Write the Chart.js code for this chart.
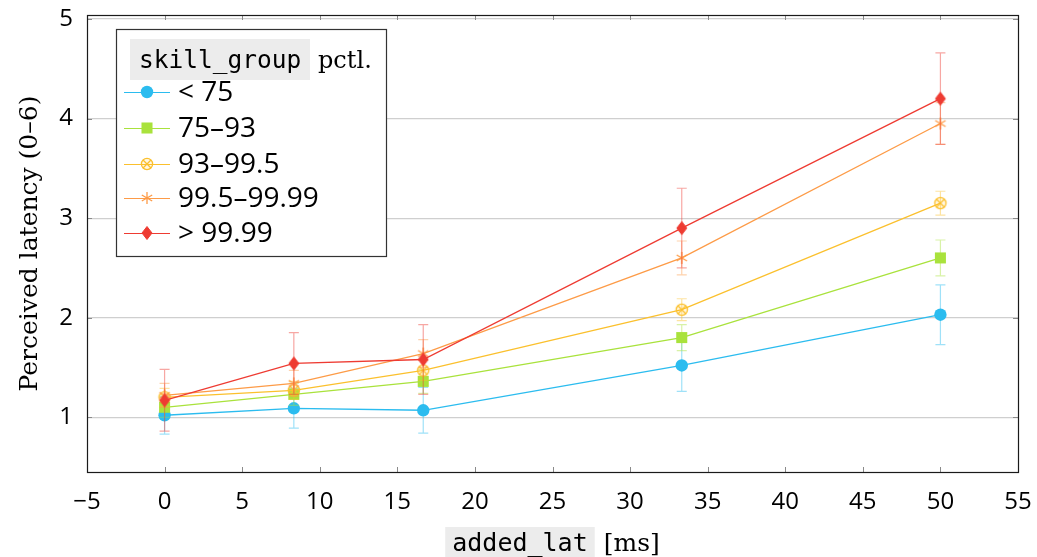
<!DOCTYPE html>
<html><head><meta charset="utf-8">
<script src="https://cdn.jsdelivr.net/npm/chart.js@4.4.1/dist/chart.umd.min.js"></script>
<style>html,body{margin:0;padding:0;background:#fff;overflow:hidden}canvas{display:block}</style>
</head><body>
<canvas id="c" width="1037" height="557"></canvas>
<script>
// ---- data ----
const xValues = [0, 8.33, 16.67, 33.33, 50];
const seriesLabels = ['< 75', '75–93', '93–99.5', '99.5–99.99', '> 99.99'];
const lt75 = [1.02, 1.09, 1.07, 1.52, 2.03];
const lt75Err = [0.19, 0.20, 0.23, 0.26, 0.30];
const p75to93 = [1.10, 1.23, 1.36, 1.80, 2.60];
const p75to93Err = [0.10, 0.11, 0.12, 0.13, 0.18];
const p93to995 = [1.20, 1.27, 1.47, 2.08, 3.15];
const p93to995Err = [0.09, 0.09, 0.10, 0.11, 0.12];
const p995to9999 = [1.22, 1.34, 1.64, 2.60, 3.95];
const p995to9999Err = [0.12, 0.13, 0.14, 0.17, 0.21];
const gt9999 = [1.17, 1.54, 1.58, 2.90, 4.20];
const gt9999Err = [0.31, 0.31, 0.35, 0.40, 0.46];
const yTickValues = [1, 2, 3, 4, 5];
const xTitleCode = 'added_lat';
const xTitleUnit = '[ms]';
const yTitle = 'Perceived latency (0–6)';
const legendTitleCode = 'skill_group';
const legendTitleText = 'pctl.';

// ---- styles ----
const colors = ['#2bbcef', '#a9e23c', '#fbc02d', '#fd9b47', '#ee3b32'];
const SANS = '"Open Sans", "Noto Sans", sans-serif';
const SERIF = '"DejaVu Serif", serif';
const MONO = '"DejaVu Sans Mono", monospace';

function rgba(hex, a) {
  const n = parseInt(hex.slice(1), 16);
  return `rgba(${n >> 16},${(n >> 8) & 255},${n & 255},${a})`;
}
function mk(size, fn) {
  const c = document.createElement('canvas');
  c.width = c.height = size;
  fn(c.getContext('2d'), size / 2);
  return c;
}
const otimes = mk(16, (g, c) => {
  const r = 5.6, col = colors[2];
  g.beginPath(); g.arc(c, c, r, 0, Math.PI * 2);
  g.fillStyle = rgba(col, 0.12); g.fill();
  g.strokeStyle = col; g.lineWidth = 1.3; g.stroke();
  const d = r * Math.SQRT1_2;
  g.beginPath();
  g.moveTo(c - d, c - d); g.lineTo(c + d, c + d);
  g.moveTo(c + d, c - d); g.lineTo(c - d, c + d);
  g.stroke();
});
const asterisk = mk(16, (g, c) => {
  const r = 6, col = colors[3];
  g.strokeStyle = col; g.lineWidth = 1.3;
  g.beginPath();
  for (const a of [90, 30, 150]) {
    const t = a * Math.PI / 180;
    g.moveTo(c - r * Math.cos(t), c - r * Math.sin(t));
    g.lineTo(c + r * Math.cos(t), c + r * Math.sin(t));
  }
  g.stroke();
});
const diamond = mk(18, (g, c) => {
  const w = 5, h = 6.5, col = colors[4];
  g.beginPath();
  g.moveTo(c, c - h); g.lineTo(c + w, c); g.lineTo(c, c + h); g.lineTo(c - w, c);
  g.closePath();
  g.fillStyle = col; g.fill();
  g.strokeStyle = col; g.lineWidth = 1; g.stroke();
});
const pointStyles = ['circle', 'rect', otimes, asterisk, diamond];
const pointRadii = [6.2, 7.8, 6, 6, 6];

const values = [lt75, p75to93, p93to995, p995to9999, gt9999];
const errors = [lt75Err, p75to93Err, p93to995Err, p995to9999Err, gt9999Err];

const datasets = values.map((vals, i) => ({
  label: seriesLabels[i],
  data: xValues.map((x, j) => ({ x, y: vals[j] })),
  errors: errors[i],
  borderColor: colors[i],
  backgroundColor: colors[i],
  borderWidth: 1.3,
  pointStyle: pointStyles[i],
  pointRadius: pointRadii[i],
  pointBorderWidth: 0,
  pointBackgroundColor: colors[i],
  pointBorderColor: colors[i],
  tension: 0,
  order: values.length - i
}));

function drawMarker(ctx, i, x, y) {
  const ps = pointStyles[i];
  if (ps instanceof HTMLCanvasElement) {
    ctx.drawImage(ps, x - ps.width / 2, y - ps.height / 2);
  } else if (ps === 'circle') {
    ctx.beginPath(); ctx.arc(x, y, pointRadii[i], 0, Math.PI * 2);
    ctx.fillStyle = colors[i]; ctx.fill();
  } else {
    const s = pointRadii[i] * Math.SQRT1_2;
    ctx.fillStyle = colors[i]; ctx.fillRect(x - s, y - s, 2 * s, 2 * s);
  }
}

const errorBars = {
  id: 'errorBars',
  beforeDatasetDraw(chart, args) {
    const ds = chart.data.datasets[args.index];
    const xs = chart.scales.x, ys = chart.scales.y, ctx = chart.ctx;
    ctx.save();
    ctx.strokeStyle = rgba(ds.borderColor, 0.45);
    ctx.lineWidth = 1.2;
    ds.data.forEach((p, j) => {
      const e = ds.errors[j];
      const px = xs.getPixelForValue(p.x);
      const y1 = ys.getPixelForValue(p.y + e), y2 = ys.getPixelForValue(p.y - e);
      ctx.beginPath();
      ctx.moveTo(px, y1); ctx.lineTo(px, y2);
      ctx.moveTo(px - 5, y1); ctx.lineTo(px + 5, y1);
      ctx.moveTo(px - 5, y2); ctx.lineTo(px + 5, y2);
      ctx.stroke();
    });
    ctx.restore();
  }
};

const frame = {
  id: 'frame',
  beforeDatasetsDraw(chart) {
    const { ctx, chartArea: a, scales: { x, y } } = chart;
    ctx.save();
    ctx.strokeStyle = '#8a8a8a'; ctx.lineWidth = 1;
    ctx.beginPath();
    x.ticks.forEach(t => {
      const px = Math.round(x.getPixelForValue(t.value)) + 0.5;
      ctx.moveTo(px, a.bottom); ctx.lineTo(px, a.bottom - 5);
      ctx.moveTo(px, a.top); ctx.lineTo(px, a.top + 5);
    });
    y.ticks.forEach(t => {
      const py = Math.round(y.getPixelForValue(t.value)) + 0.5;
      ctx.moveTo(a.left, py); ctx.lineTo(a.left + 5, py);
      ctx.moveTo(a.right, py); ctx.lineTo(a.right - 5, py);
    });
    ctx.stroke();
    ctx.restore();
  },
  afterDraw(chart) {
    const { ctx, chartArea: a } = chart;
    ctx.save();
    ctx.strokeStyle = '#1a1a1a'; ctx.lineWidth = 1.2;
    ctx.strokeRect(Math.round(a.left) + 0.5, Math.round(a.top) + 0.5,
      Math.round(a.right - a.left), Math.round(a.bottom - a.top));

    // axis titles
    ctx.fillStyle = '#000';
    ctx.textBaseline = 'alphabetic';
    ctx.save();
    ctx.translate(37, (a.top + a.bottom) / 2);
    ctx.rotate(-Math.PI / 2);
    ctx.font = `25px ${SERIF}`;
    ctx.textAlign = 'center';
    ctx.fillText(yTitle, 0, 0);
    ctx.restore();

    ctx.font = `25px ${MONO}`;
    const wCode = ctx.measureText(xTitleCode).width;
    ctx.font = `25px ${SERIF}`;
    const wUnit = ctx.measureText(xTitleUnit).width;
    const gap = 9, pad = 7;
    const total = wCode + 2 * pad + gap + wUnit;
    const cx = (a.left + a.right) / 2;
    const sx = cx - total / 2;
    ctx.fillStyle = '#ececec';
    ctx.fillRect(sx, 527, wCode + 2 * pad, 32);
    ctx.fillStyle = '#000';
    ctx.font = `25px ${MONO}`;
    ctx.fillText(xTitleCode, sx + pad, 551);
    ctx.font = `25px ${SERIF}`;
    ctx.fillText(xTitleUnit, sx + wCode + 2 * pad + gap, 551);

    // legend
    const L = 116, T = 29, R = 386, B = 256;
    ctx.fillStyle = '#fff';
    ctx.fillRect(L, T, R - L, B - T);
    ctx.strokeStyle = '#333'; ctx.lineWidth = 1.2;
    ctx.strokeRect(L + 0.5, T + 0.5, R - L, B - T);
    ctx.fillStyle = '#ececec';
    ctx.fillRect(130, 39, 180, 41);
    ctx.fillStyle = '#000';
    ctx.font = `24.5px ${MONO}`;
    ctx.textAlign = 'left';
    ctx.fillText(legendTitleCode, 139, 68);
    ctx.font = `24px ${SERIF}`;
    ctx.fillText(legendTitleText, 318, 68);
    const rowY = [92, 128, 164, 198, 233];
    seriesLabels.forEach((lab, i) => {
      const yy = rowY[i];
      ctx.strokeStyle = colors[i]; ctx.lineWidth = 1.2;
      ctx.beginPath(); ctx.moveTo(124, yy + 0.5); ctx.lineTo(170, yy + 0.5); ctx.stroke();
      drawMarker(ctx, i, 147, yy);
      ctx.fillStyle = '#000';
      ctx.font = `28px ${SANS}`;
      ctx.textBaseline = 'middle';
      ctx.fillText(lab, 178, yy + 1);
      ctx.textBaseline = 'alphabetic';
    });
    ctx.restore();
  }
};

new Chart(document.getElementById('c'), {
  type: 'line',
  data: { datasets },
  options: {
    responsive: false,
    animation: false,
    devicePixelRatio: 1,
    layout: { padding: { top: 15, right: 19, left: 0, bottom: 0 } },
    plugins: { legend: { display: false }, tooltip: { enabled: false } },
    scales: {
      x: {
        type: 'linear', min: -5, max: 55,
        ticks: {
          stepSize: 5, color: '#000', padding: 8,
          font: { family: SANS, size: 24 },
          callback: v => (v < 0 ? '−' + Math.abs(v) : String(v))
        },
        grid: { display: false },
        border: { display: false },
        afterFit: s => { s.height = 85; s.paddingLeft = 0; s.paddingRight = 0; }
      },
      y: {
        type: 'linear', min: 0.45, max: 5.04,
        afterBuildTicks: s => { s.ticks = yTickValues.map(v => ({ value: v })); },
        ticks: {
          color: '#000', padding: 14,
          font: { family: SANS, size: 24 },
          callback: v => String(v)
        },
        grid: { color: '#cfcfcf', lineWidth: 1.2, drawTicks: false },
        border: { display: false },
        afterFit: s => { s.width = 87; s.paddingTop = 0; s.paddingBottom = 0; }
      }
    }
  },
  plugins: [errorBars, frame]
});
</script>
</body></html>
